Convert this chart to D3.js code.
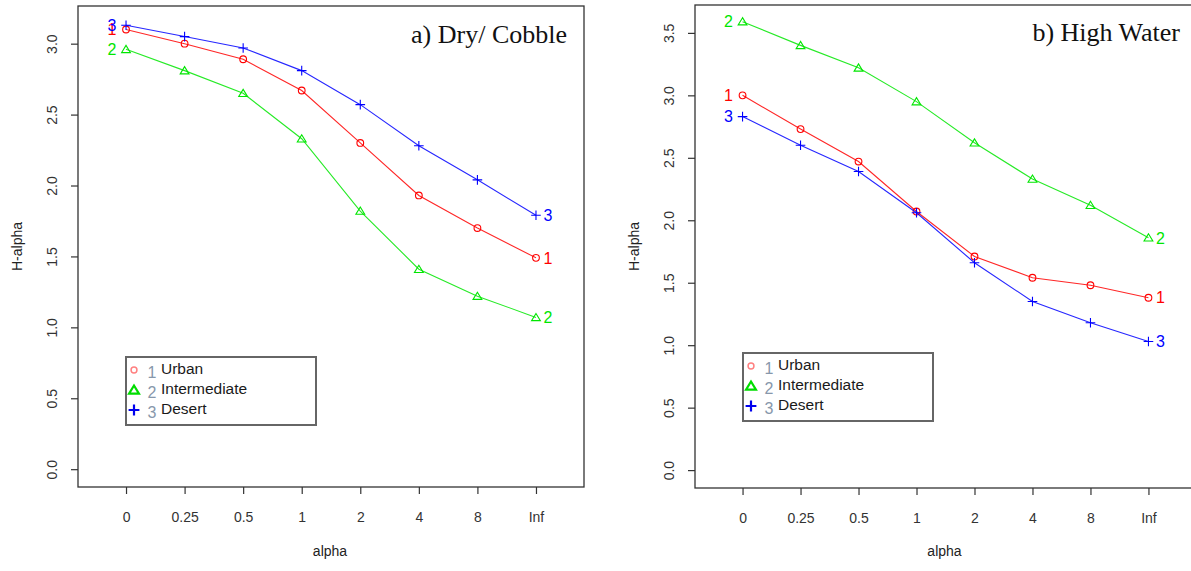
<!DOCTYPE html>
<html>
<head>
<meta charset="utf-8">
<script src="https://cdn.jsdelivr.net/npm/d3@7"></script>
<style>
  body { margin: 0; background: #fff; }
  svg { display: block; }
  .tick text { font-family: "Liberation Sans", Arial, sans-serif; fill: #333; }
</style>
</head>
<body>
<svg id="chart" width="1191" height="571"></svg>
<script>
// alpha values on the x axis (plotted at positions 1..8)
const categories = ["0", "0.25", "0.5", "1", "2", "4", "8", "Inf"];
const seriesNames = ["Urban", "Intermediate", "Desert"];
const yTicks = [0, 0.5, 1.0, 1.5, 2.0, 2.5, 3.0, 3.5];

// Hill numbers H-alpha, dry / cobble conditions
const dryUrban        = [3.10, 3.00, 2.89, 2.67, 2.30, 1.93, 1.70, 1.49];
const dryIntermediate = [2.96, 2.81, 2.65, 2.33, 1.82, 1.41, 1.22, 1.07];
const dryDesert       = [3.13, 3.05, 2.97, 2.81, 2.57, 2.28, 2.04, 1.79];

// Hill numbers H-alpha, high water conditions
const wetUrban        = [3.00, 2.73, 2.47, 2.07, 1.71, 1.54, 1.48, 1.38];
const wetIntermediate = [3.59, 3.40, 3.22, 2.95, 2.62, 2.33, 2.12, 1.86];
const wetDesert       = [2.83, 2.60, 2.39, 2.06, 1.66, 1.35, 1.18, 1.03];

const colors = ["#ff0000", "#00e600", "#0000ff"];
const legendColors = ["#ff8080", "#00dd00", "#0000ee"];

const svg = d3.select("#chart");
svg.append("rect").attr("width", 1191).attr("height", 571).attr("fill", "#fff");

const panels = [
  { title: "a) Dry/ Cobble", series: [dryUrban, dryIntermediate, dryDesert],
    box: { x0: 78, x1: 584, y0: 6, y1: 487 }, yMax: 3.14, titleX: 567, titleY: 43,
    ylabX: 17, legend: { x: 126, y: 357, w: 190, h: 68 } },
  { title: "b) High Water", series: [wetUrban, wetIntermediate, wetDesert],
    box: { x0: 695, x1: 1196, y0: 5, y1: 488 }, yMax: 3.58, titleX: 1180, titleY: 41,
    ylabX: 634, legend: { x: 743, y: 353, w: 190, h: 68 } }
];

function marker(g, shape, cx, cy, color, size, width) {
  if (shape === 0) {
    g.append("circle").attr("cx", cx).attr("cy", cy).attr("r", size * 0.42)
      .attr("fill", "none").attr("stroke", color).attr("stroke-width", width);
  } else if (shape === 1) {
    const h = size * 0.9;
    const pts = [[cx, cy - h * 0.55], [cx - size * 0.55, cy + h * 0.45], [cx + size * 0.55, cy + h * 0.45]];
    g.append("path").attr("d", "M" + pts.map(p => p.join(",")).join("L") + "Z")
      .attr("fill", "none").attr("stroke", color).attr("stroke-width", width);
  } else {
    const a = size * 0.6;
    g.append("path").attr("d", `M${cx - a},${cy}H${cx + a}M${cx},${cy - a}V${cy + a}`)
      .attr("stroke", color).attr("stroke-width", width);
  }
}

panels.forEach(p => {
  const b = p.box;
  const g = svg.append("g");
  const x = d3.scaleLinear().domain([0.18, 8.82]).range([b.x0, b.x1]);
  const pad = p.yMax * 0.04;
  const y = d3.scaleLinear().domain([-pad, p.yMax + pad]).range([b.y1, b.y0]);

  // y axis with rotated tick labels
  const ya = g.append("g").attr("transform", `translate(${b.x0},0)`)
    .call(d3.axisLeft(y).tickValues(yTicks.filter(v => v <= p.yMax + pad))
      .tickFormat(d3.format(".1f")).tickSize(7));
  ya.select(".domain").remove();
  ya.selectAll(".tick line").attr("stroke", "#333").attr("stroke-width", 1.2);
  ya.selectAll(".tick text").attr("x", null).attr("dy", "0.35em")
    .attr("text-anchor", "middle").attr("transform", "translate(-26,0) rotate(-90)")
    .style("font-size", "14px");

  // x axis with category labels
  const xa = g.append("g").attr("transform", `translate(0,${b.y1})`)
    .call(d3.axisBottom(x).tickValues(d3.range(1, categories.length + 1))
      .tickFormat(i => categories[i - 1]).tickSize(7));
  xa.select(".domain").remove();
  xa.selectAll(".tick line").attr("stroke", "#333").attr("stroke-width", 1.2);
  xa.selectAll(".tick text").attr("y", 30).attr("dy", "0.35em").style("font-size", "14px");

  // plot frame
  g.append("rect").attr("x", b.x0).attr("y", b.y0)
    .attr("width", b.x1 - b.x0).attr("height", b.y1 - b.y0)
    .attr("fill", "none").attr("stroke", "#333").attr("stroke-width", 1.3);

  // axis titles
  g.append("text").attr("x", (b.x0 + b.x1) / 2 - 1).attr("y", 556)
    .attr("text-anchor", "middle").attr("font-family", "Liberation Sans, Arial, sans-serif")
    .attr("font-size", 14).attr("fill", "#222").text("alpha");
  g.append("text").attr("transform", `translate(${p.ylabX},${(b.y0 + b.y1) / 2}) rotate(-90)`)
    .attr("dy", "0.35em").attr("text-anchor", "middle")
    .attr("font-family", "Liberation Sans, Arial, sans-serif")
    .attr("font-size", 14).attr("fill", "#222").text("H-alpha");

  // series lines, markers and end labels
  const line = d3.line().x((d, i) => x(i + 1)).y(d => y(d));
  p.series.forEach((vals, s) => {
    g.append("path").datum(vals).attr("d", line)
      .attr("fill", "none").attr("stroke", colors[s]).attr("stroke-width", 1.1)
      .attr("stroke-opacity", 0.85);
    vals.forEach((v, i) => marker(g, s, x(i + 1), y(v), colors[s], 8, 1.1));
    const lab = String(s + 1);
    g.append("text").attr("x", x(1) - 14).attr("y", y(vals[0])).attr("dy", "0.36em")
      .attr("text-anchor", "middle").attr("font-family", "Liberation Sans, Arial, sans-serif")
      .attr("font-size", 16).attr("fill", colors[s]).text(lab);
    g.append("text").attr("x", x(categories.length) + 12).attr("y", y(vals[vals.length - 1]))
      .attr("dy", "0.36em").attr("text-anchor", "middle")
      .attr("font-family", "Liberation Sans, Arial, sans-serif")
      .attr("font-size", 16).attr("fill", colors[s]).text(lab);
  });

  // panel title
  g.append("text").attr("x", p.titleX).attr("y", p.titleY).attr("text-anchor", "end")
    .attr("font-family", "Liberation Serif, Times New Roman, serif")
    .attr("font-size", 26).attr("fill", "#111").text(p.title);

  // legend
  const L = p.legend;
  const lg = g.append("g");
  lg.append("rect").attr("x", L.x).attr("y", L.y).attr("width", L.w).attr("height", L.h)
    .attr("fill", "#fff").attr("stroke", "#666").attr("stroke-width", 2);
  seriesNames.forEach((name, s) => {
    const cy = L.y + 12 + s * 20;
    marker(lg, s, L.x + 8, cy + 1, legendColors[s], s === 0 ? 7 : 9, s === 0 ? 1.5 : 2.2);
    lg.append("text").attr("x", L.x + 26).attr("y", cy + 3).attr("dy", "0.35em")
      .attr("text-anchor", "middle").attr("font-family", "Liberation Sans, Arial, sans-serif")
      .attr("font-size", 16).attr("fill", "#8797ab").text(String(s + 1));
    lg.append("text").attr("x", L.x + 35).attr("y", cy).attr("dy", "0.35em")
      .attr("font-family", "Liberation Sans, Arial, sans-serif")
      .attr("font-size", 15.5).attr("fill", "#1a1a1a").text(name);
  });
});
</script>
</body>
</html>
